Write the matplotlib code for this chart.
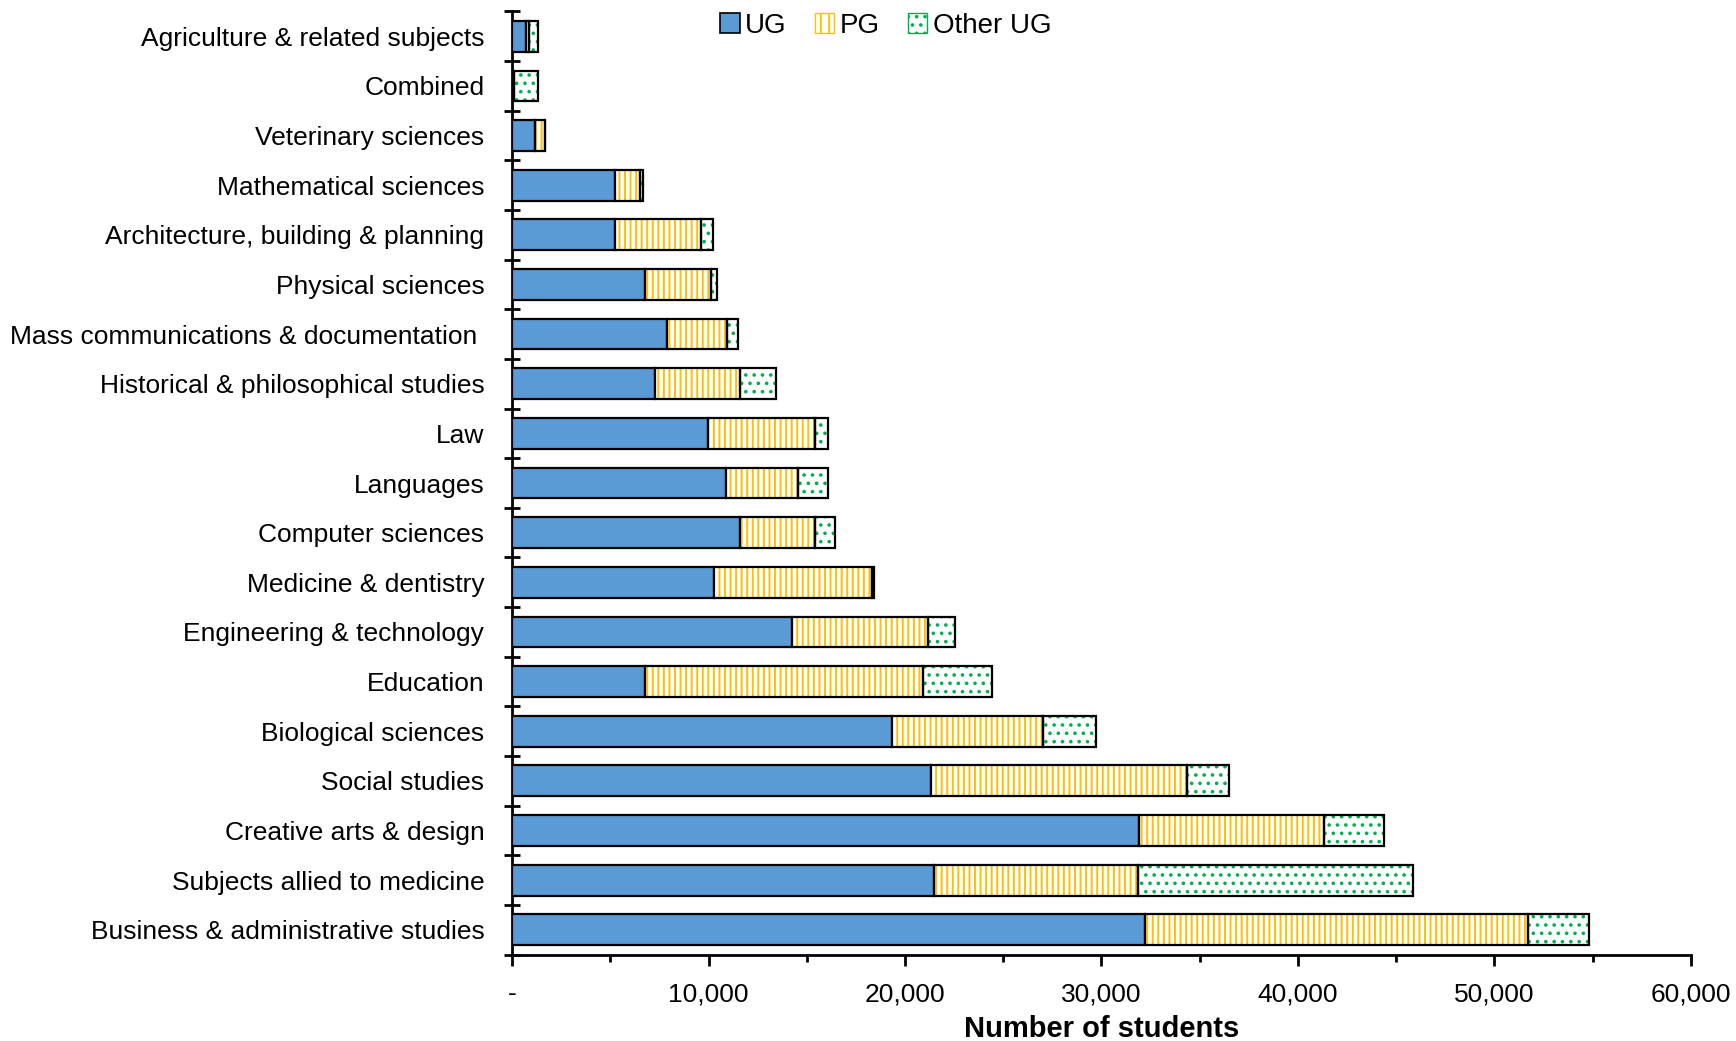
import matplotlib.pyplot as plt
from matplotlib.ticker import MultipleLocator, FuncFormatter
from matplotlib.patches import Patch

plt.rcParams['font.family'] = ['Liberation Sans', 'DejaVu Sans']
plt.rcParams['hatch.linewidth'] = 1.4

# subjects, top of the chart first
subjects = ['Agriculture & related subjects', 'Combined', 'Veterinary sciences',
            'Mathematical sciences', 'Architecture, building & planning',
            'Physical sciences', 'Mass communications & documentation ',
            'Historical & philosophical studies', 'Law', 'Languages',
            'Computer sciences', 'Medicine & dentistry', 'Engineering & technology',
            'Education', 'Biological sciences', 'Social studies',
            'Creative arts & design', 'Subjects allied to medicine',
            'Business & administrative studies']
ug = [730, 60, 1180, 5250, 5250, 6770, 7900, 7280, 9980, 10890, 11620, 10270,
      14270, 6770, 19350, 21320, 31920, 21490, 32200]
pg = [120, 30, 510, 1240, 4340, 3330, 3040, 4340, 5420, 3660, 3780, 8060,
      6880, 14150, 7670, 13030, 9420, 10380, 19520]
other_ug = [450, 1210, 0, 160, 620, 330, 570, 1800, 670, 1520, 1010, 110,
            1410, 3500, 2700, 2140, 3050, 13980, 3100]

fig = plt.figure(figsize=(17.36, 10.41), dpi=100)
ax = fig.add_axes([0.295, 0.083, 0.679, 0.906])

ypos = [len(subjects) - 1 - i for i in range(len(subjects))]
h = 0.62
left_pg = [u for u in ug]
left_ot = [u + p for u, p in zip(ug, pg)]

ax.barh(ypos, ug, height=h, color='#5B9BD5', edgecolor='black', linewidth=1.6, zorder=3)
# hatched fills first, black outlines on top
ax.barh(ypos, pg, left=left_pg, height=h, color='white', edgecolor='#FFC000',
        hatch='|||', linewidth=0, zorder=3)
ax.barh(ypos, pg, left=left_pg, height=h, color='none', edgecolor='black',
        linewidth=1.6, zorder=4)
ax.barh(ypos, other_ug, left=left_ot, height=h, color='white', edgecolor='#00B050',
        hatch='..', linewidth=0, zorder=3)
ax.barh(ypos, other_ug, left=left_ot, height=h, color='none', edgecolor='black',
        linewidth=1.6, zorder=4)

ax.set_ylim(-0.5, len(subjects) - 0.5)
ax.set_xlim(0, 60000)

ax.set_yticks([i - 0.5 for i in range(len(subjects) + 1)])
ax.set_yticklabels([])
ax.set_yticks(ypos, minor=True)
ax.set_yticklabels(subjects, minor=True, fontsize=19)
ax.tick_params(axis='y', which='major', direction='inout', length=12, width=2)
ax.tick_params(axis='y', which='minor', length=0, pad=20)

ax.xaxis.set_major_locator(MultipleLocator(10000))
ax.xaxis.set_minor_locator(MultipleLocator(5000))
ax.xaxis.set_major_formatter(FuncFormatter(lambda v, p: '-' if v == 0 else f'{int(v):,}'))
ax.tick_params(axis='x', which='major', direction='out', length=8, width=2,
               labelsize=19, pad=12)
ax.tick_params(axis='x', which='minor', direction='out', length=5, width=2)
ax.set_xlabel('Number of students', fontsize=21, fontweight='bold', labelpad=6)

for s in ['top', 'right']:
    ax.spines[s].set_visible(False)
for s in ['left', 'bottom']:
    ax.spines[s].set_linewidth(2)

handles = [Patch(facecolor='#5B9BD5', edgecolor='black', linewidth=1.2, label='UG'),
           Patch(facecolor='white', edgecolor='#FFC000', hatch='||', label='PG'),
           Patch(facecolor='white', edgecolor='#00B050', hatch='..', label='Other UG')]
ax.legend(handles=handles, loc='upper center', bbox_to_anchor=(0.317, 1.025), ncol=3,
          frameon=False, fontsize=20, handlelength=0.7, handleheight=0.7,
          handletextpad=0.2, columnspacing=1.0)

fig.savefig('out.png', dpi=100)
